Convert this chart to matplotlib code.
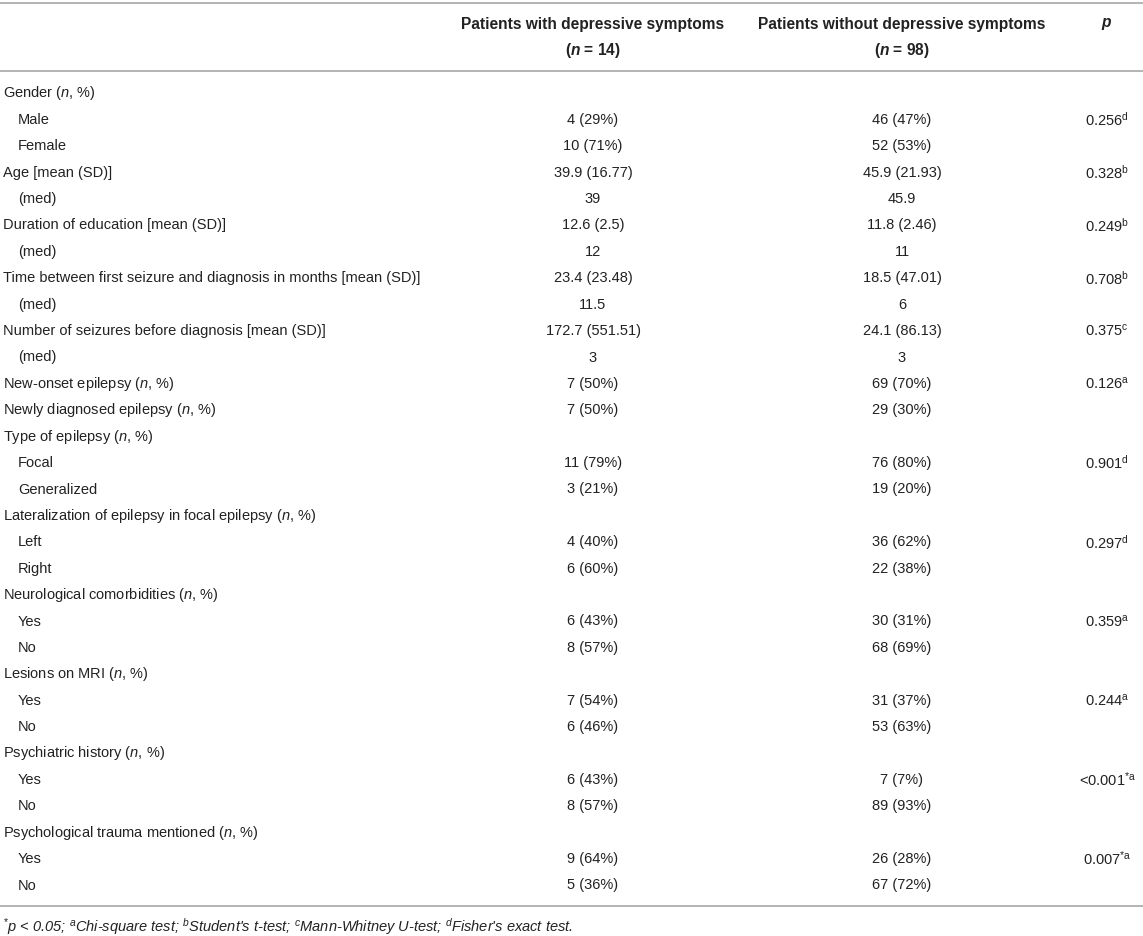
import matplotlib
matplotlib.use("Agg")
import matplotlib.pyplot as plt

plt.rcParams['font.family'] = ['Liberation Sans', 'DejaVu Sans']
plt.rcParams['mathtext.fontset'] = 'custom'
plt.rcParams['mathtext.rm'] = 'Liberation Sans'
plt.rcParams['mathtext.it'] = 'Liberation Sans:italic'
plt.rcParams['mathtext.bf'] = 'Liberation Sans:bold'
plt.rcParams['mathtext.bfit'] = 'Liberation Sans:italic:bold'

# table content
col_headers = ["Patients with depressive symptoms", "Patients without depressive symptoms"]
col_counts = [r"($\mathbfit{n}$ = 14)", r"($\mathbfit{n}$ = 98)"]

row_labels = [
    r"Gender ($\mathit{n}$, %)", "Male", "Female",
    "Age [mean (SD)]", "(med)",
    "Duration of education [mean (SD)]", "(med)",
    "Time between first seizure and diagnosis in months [mean (SD)]", "(med)",
    "Number of seizures before diagnosis [mean (SD)]", "(med)",
    r"New-onset epilepsy ($\mathit{n}$, %)",
    r"Newly diagnosed epilepsy ($\mathit{n}$, %)",
    r"Type of epilepsy ($\mathit{n}$, %)", "Focal", "Generalized",
    r"Lateralization of epilepsy in focal epilepsy ($\mathit{n}$, %)", "Left", "Right",
    r"Neurological comorbidities ($\mathit{n}$, %)", "Yes", "No",
    r"Lesions on MRI ($\mathit{n}$, %)", "Yes", "No",
    r"Psychiatric history ($\mathit{n}$, %)", "Yes", "No",
    r"Psychological trauma mentioned ($\mathit{n}$, %)", "Yes", "No",
]
indent = [0, 1, 1, 0, 1, 0, 1, 0, 1, 0, 1, 0, 0, 0, 1, 1, 0, 1, 1,
          0, 1, 1, 0, 1, 1, 0, 1, 1, 0, 1, 1]

with_dep = ["", "4 (29%)", "10 (71%)", "39.9 (16.77)", "39", "12.6 (2.5)", "12",
            "23.4 (23.48)", "11.5", "172.7 (551.51)", "3", "7 (50%)", "7 (50%)",
            "", "11 (79%)", "3 (21%)", "", "4 (40%)", "6 (60%)", "", "6 (43%)",
            "8 (57%)", "", "7 (54%)", "6 (46%)", "", "6 (43%)", "8 (57%)", "",
            "9 (64%)", "5 (36%)"]
without_dep = ["", "46 (47%)", "52 (53%)", "45.9 (21.93)", "45.9", "11.8 (2.46)", "11",
               "18.5 (47.01)", "6", "24.1 (86.13)", "3", "69 (70%)", "29 (30%)",
               "", "76 (80%)", "19 (20%)", "", "36 (62%)", "22 (38%)", "", "30 (31%)",
               "68 (69%)", "", "31 (37%)", "53 (63%)", "", "7 (7%)", "89 (93%)", "",
               "26 (28%)", "67 (72%)"]
p_vals = ["", "0.256", "", "0.328", "", "0.249", "", "0.708", "", "0.375", "",
          "0.126", "", "", "0.901", "", "", "0.297", "", "", "0.359", "", "",
          "0.244", "", "", "<0.001", "", "", "0.007", ""]
p_tests = ["", "d", "", "b", "", "b", "", "b", "", "c", "", "a", "", "", "d", "",
           "", "d", "", "", "a", "", "", "a", "", "", "*a", "", "", "*a", ""]

footnote = (r"$^{*}$$\mathit{p}$ < 0.05; $^{\mathit{a}}$Chi-square test; "
            r"$^{\mathit{b}}$Student's t-test; $^{\mathit{c}}$Mann-Whitney U-test; "
            r"$^{\mathit{d}}$Fisher's exact test.")

txt = '#222222'
rule = '#b3b3b3'
fs = 10.5
fs_head = 11.2

fig = plt.figure(figsize=(11.43, 9.36), dpi=100)
ax = fig.add_axes([0, 0, 1, 1])
ax.set_xlim(0, 1143)
ax.set_ylim(936, 0)
ax.axis('off')

x_label = 3
x_indent = 18
x_col = [593, 902]
x_p = 1107
y0 = 93.5
dy = 26.4

# rules
for y in [3, 71, 906]:
    ax.plot([0, 1143], [y, y], color=rule, lw=1.4, solid_capstyle='butt')

# header
for xc, h, c in zip(x_col, col_headers, col_counts):
    ax.text(xc, 24, h, ha='center', va='center', fontsize=fs_head, fontweight='bold', color=txt)
    ax.text(xc, 50, c, ha='center', va='center', fontsize=fs_head, fontweight='bold', color=txt)
ax.text(x_p, 24, r"$\mathbfit{p}$", ha='center', va='center', fontsize=fs_head, color=txt)

# body
for i, lab in enumerate(row_labels):
    y = y0 + i * dy
    ax.text(x_indent if indent[i] else x_label, y, lab, ha='left', va='center',
            fontsize=fs, color=txt)
    if with_dep[i]:
        ax.text(x_col[0], y, with_dep[i], ha='center', va='center', fontsize=fs, color=txt)
    if without_dep[i]:
        ax.text(x_col[1], y, without_dep[i], ha='center', va='center', fontsize=fs, color=txt)
    if p_vals[i]:
        sup = p_tests[i].replace("a", r"\mathrm{a}").replace("b", r"\mathrm{b}") \
            .replace("c", r"\mathrm{c}").replace("d", r"\mathrm{d}")
        ax.text(x_p, y, p_vals[i] + "$^{" + sup + "}$", ha='center', va='center',
                fontsize=fs, color=txt)

ax.text(x_label, 927, footnote, ha='left', va='center', fontsize=fs,
        fontstyle='italic', color=txt)

fig.savefig("out.png", dpi=100)
